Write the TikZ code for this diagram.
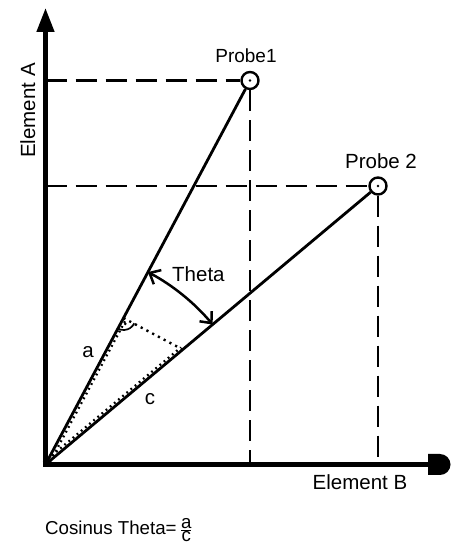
\documentclass[tikz,border=0pt]{standalone}
\usepackage{fontspec}
\setmainfont{Liberation Sans}
\usetikzlibrary{arrows.meta,calc}
\begin{document}
\begin{tikzpicture}[x=1pt,y=1pt,
  axis/.style={line width=4.5pt},
  ray/.style={line width=2.8pt},
  guide/.style={line width=2.7pt, dash pattern=on 21pt off 9pt},
  probe/.style={circle, draw, line width=2.4pt, minimum size=17pt, inner sep=0pt, fill=white},
  lbl/.style={font=\fontsize{20.5}{24}\selectfont, inner sep=0pt},
  teeth/.style={line width=2.3pt, dash pattern=on 1.8pt off 3.6pt},
  perp/.style={line width=2.4pt, dash pattern=on 2.2pt off 4.3pt},
  barb/.tip={Straight Barb[length=9pt,width=16pt]},
]
\useasboundingbox (0,0) rectangle (458,549);
% axes
\coordinate (O) at (45.5,84.5);
\coordinate (ytip) at (45.5,541);
\coordinate (xend) at (430,84.5);
\draw[axis, {Triangle[length=24pt,width=17pt]}-] (ytip) -- (O) -- (xend);
\fill ($(xend)+(-2,10.5)$) -- ++(12,0) arc[start angle=90, end angle=-90, radius=10.5] -- ++(-12,0) -- cycle;
% probes
\coordinate (ha) at (45.5,468.5);
\coordinate (hb) at (45.5,363);
\coordinate (va) at (250,84.5);
\coordinate (vb) at (378,84.5);
\node[probe] (p1) at (250,468.5) {};
\node[probe] (p2) at (378,363) {};
\fill (p1) circle (1.3);
\fill (p2) circle (1.3);
\draw[guide] (ha) -- (p1);
\draw[guide] (hb) -- (p2);
\draw[guide] (p1) -- (va);
\draw[guide] (p2) -- (vb);
\draw[ray] (O) -- (p1);
\draw[ray] (O) -- (p2);
% triangle
\coordinate (P) at ($(O)!179pt!(p2)$);
\coordinate (F) at ($(O)!(P)!(p1)$);
\draw[teeth] ($(O)!2.8pt!-90:(F)$) -- ($(F)!2.8pt!90:(O)$);
\draw[teeth] ($(O)!2.8pt!90:(P)$) -- ($(P)!2.8pt!-90:(O)$);
\draw[perp] (F) -- (P);
\draw[line width=1.7pt] ($(F)+(-26:12)$) arc[start angle=-26, end angle=-120, radius=12];
\fill ($(F)+(-73:6)$) circle (1.5);
% theta arc
\draw[line width=2.5pt, barb-barb] ($(O)+(61.97:218)$) arc[start angle=61.97, end angle=39.95, radius=218];
% labels
\node[lbl, font=\fontsize{19}{23}\selectfont, anchor=base] (t1) at (246,486) {Probe1};
\node[lbl, anchor=base] (t2) at (381,380) {Probe 2};
\node[lbl, anchor=base, rotate=90] (ta) at (35,438.5) {Element A};
\node[lbl, anchor=base] (tb) at (360,59) {Element B};
\node[lbl, anchor=base west] (tt) at (172,267) {Theta};
\node[lbl] (la) at (88,197) {a};
\node[lbl] (lc) at (150,150) {c};
\node[lbl, font=\fontsize{18.7}{22}\selectfont, anchor=base west] (cos) at (45,14) {Cosinus Theta=\,$\frac{\mbox{a}}{\mbox{c}}$};
\end{tikzpicture}
\end{document}
